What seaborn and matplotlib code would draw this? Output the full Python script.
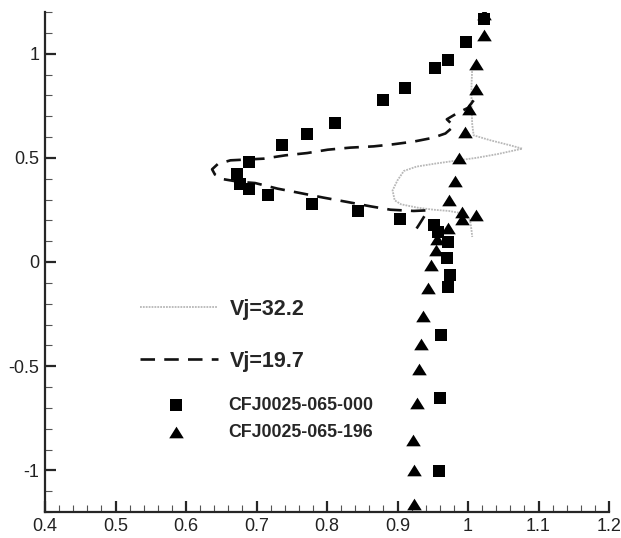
import numpy as np
import pandas as pd
import matplotlib
matplotlib.use('Agg')
import matplotlib.pyplot as plt
import seaborn as sns
from matplotlib.ticker import MultipleLocator, FormatStrFormatter

# Vj=32.2 (dotted grey)
vj32_x = [1.006, 1.005, 1.005, 1.006, 1.008, 1.032, 1.060, 1.077, 1.042, 1.012, 0.982,
          0.953, 0.927, 0.909, 0.900, 0.893, 0.896, 0.905, 0.928, 0.951, 0.973, 0.994,
          1.003, 1.005, 1.006]
vj32_y = [0.930, 0.850, 0.750, 0.660, 0.608, 0.584, 0.560, 0.544, 0.518, 0.500, 0.486,
          0.472, 0.458, 0.437, 0.392, 0.344, 0.296, 0.277, 0.261, 0.251, 0.245, 0.232,
          0.200, 0.152, 0.120]

# Vj=19.7 (dashed black)
vj19_x = [1.008, 1.000, 0.985, 0.970, 0.980, 0.968, 0.950, 0.923, 0.894, 0.866, 0.833,
          0.801, 0.772, 0.741, 0.710, 0.663, 0.645, 0.637, 0.641, 0.652, 0.675, 0.698,
          0.730, 0.762, 0.795, 0.829, 0.862, 0.890, 0.923, 0.943, 0.940, 0.930, 0.922]
vj19_y = [0.776, 0.740, 0.715, 0.685, 0.652, 0.617, 0.596, 0.578, 0.565, 0.555, 0.549,
          0.539, 0.523, 0.512, 0.496, 0.488, 0.470, 0.445, 0.420, 0.398, 0.385, 0.379,
          0.352, 0.331, 0.309, 0.288, 0.267, 0.251, 0.245, 0.248, 0.230, 0.176, 0.135]

# CFJ0025-065-000 (squares)
sq_x = [1.022, 0.997, 0.972, 0.953, 0.910, 0.880, 0.812, 0.772, 0.736, 0.689, 0.672,
        0.677, 0.689, 0.717, 0.779, 0.844, 0.903, 0.952, 0.958, 0.971, 0.970, 0.974,
        0.972, 0.962, 0.960, 0.959]
sq_y = [1.168, 1.056, 0.968, 0.933, 0.837, 0.776, 0.669, 0.616, 0.561, 0.482, 0.424,
        0.376, 0.352, 0.320, 0.277, 0.243, 0.206, 0.176, 0.144, 0.096, 0.020, -0.064,
        -0.120, -0.352, -0.651, -1.003]

# CFJ0025-065-196 (triangles)
tr_x = [1.022, 1.022, 1.011, 1.012, 1.001, 0.996, 0.987, 0.981, 0.973, 0.992, 0.992,
        1.012, 0.972, 0.956, 0.954, 0.948, 0.943, 0.936, 0.934, 0.930, 0.927, 0.922,
        0.923, 0.923]
tr_y = [1.190, 1.088, 0.949, 0.832, 0.736, 0.624, 0.501, 0.389, 0.296, 0.240, 0.208,
        0.226, 0.162, 0.110, 0.058, -0.014, -0.125, -0.261, -0.392, -0.512, -0.677,
        -0.852, -1.000, -1.163]

labels = ['Vj=32.2', 'Vj=19.7', 'CFJ0025-065-000', 'CFJ0025-065-196']

sns.set_style('ticks')
plt.rcParams['font.family'] = ['Liberation Sans', 'DejaVu Sans']

fig = plt.figure(figsize=(6.21, 5.38), dpi=100)
ax = fig.add_axes([45 / 621, 26 / 538, 564 / 621, 500 / 538])

tri = [(-1, -0.8), (1, -0.8), (0, 0.8)]

sns.lineplot(x=vj32_x, y=vj32_y, sort=False, estimator=None, ax=ax, color='#b8b8b8',
             linewidth=1.3, linestyle=(0, (1, 0.6)), label=labels[0])
sns.lineplot(x=vj19_x, y=vj19_y, sort=False, estimator=None, ax=ax, color='#111111',
             linewidth=1.9, linestyle=(0, (5.5, 3.5)), label=labels[1])
sns.scatterplot(x=sq_x, y=sq_y, ax=ax, marker='s', s=80, color='black', linewidth=0,
                label=labels[2], zorder=3)
sns.scatterplot(x=tr_x, y=tr_y, ax=ax, marker=tri, s=110, color='black', linewidth=0,
                label=labels[3], zorder=3)

ax.set_xlim(0.4, 1.2)
ax.set_ylim(-1.2, 1.2)
ax.xaxis.set_major_locator(MultipleLocator(0.1))
ax.xaxis.set_minor_locator(MultipleLocator(0.02))
ax.yaxis.set_major_locator(MultipleLocator(0.5))
ax.yaxis.set_minor_locator(MultipleLocator(0.1))
ax.xaxis.set_major_formatter(FormatStrFormatter('%g'))
ax.yaxis.set_major_formatter(FormatStrFormatter('%g'))

for s in ['top', 'right']:
    ax.spines[s].set_visible(False)
for s in ['left', 'bottom']:
    ax.spines[s].set_linewidth(1.6)
ax.tick_params(which='major', direction='in', length=8, width=1.6, labelsize=13,
               labelcolor='#222222', pad=4)
ax.tick_params(which='minor', direction='in', length=5, width=0.8, color='#555555')

handles, _ = ax.get_legend_handles_labels()

leg1 = ax.legend(handles[:2], labels[:2], loc='upper left', frameon=False,
                 bbox_to_anchor=(140 / 621, 1 - 299 / 538), bbox_transform=fig.transFigure,
                 borderpad=0, borderaxespad=0, handlelength=3.63, handletextpad=0.56,
                 labelspacing=1.42, prop={'weight': 'bold', 'size': 15.5})
ax.add_artist(leg1)
ax.legend(handles[2:], labels[2:], loc='upper left', frameon=False,
          bbox_to_anchor=(158 / 621, 1 - 397 / 538), bbox_transform=fig.transFigure,
          borderpad=0, borderaxespad=0, handlelength=2.0, handletextpad=1.93,
          labelspacing=0.57, prop={'weight': 'bold', 'size': 12.8})

fig.savefig('out.png', dpi=100)
plt.close()
